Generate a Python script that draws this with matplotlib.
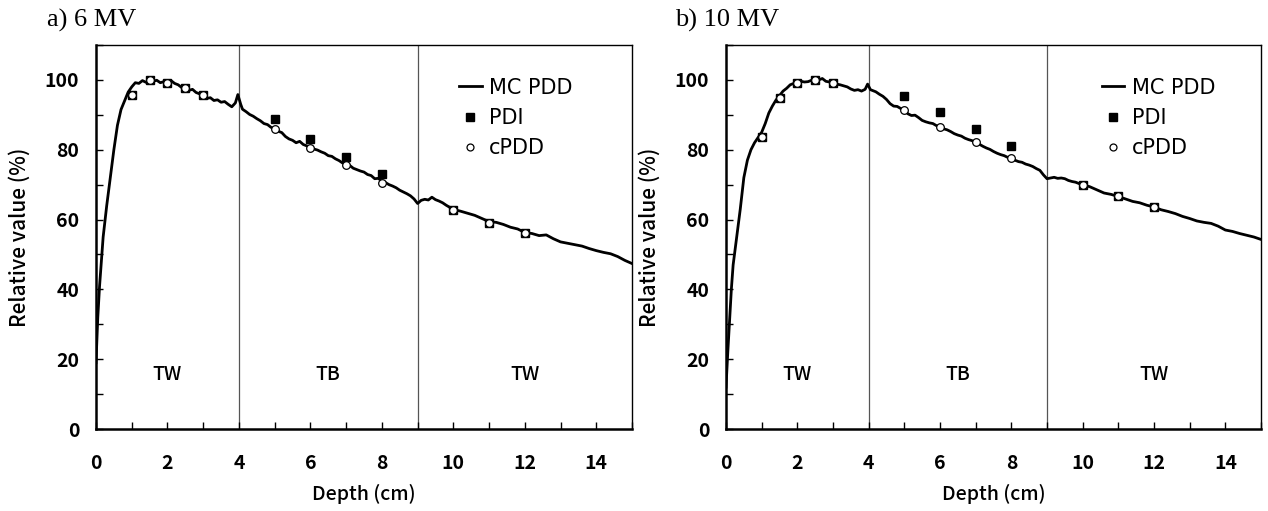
import matplotlib
matplotlib.use("Agg")
import matplotlib.pyplot as plt
from matplotlib.ticker import MultipleLocator
from matplotlib.lines import Line2D

# ---------------- data ----------------
depth_6mv = [0.0, 0.05, 0.1, 0.15, 0.2, 0.3, 0.4, 0.5, 0.6, 0.7, 0.8, 0.9, 1.0, 1.1, 1.2, 1.3, 1.4,
             1.5, 1.6, 1.7, 1.8, 1.9, 2.0, 2.1, 2.2, 2.3, 2.4, 2.5, 2.6, 2.7, 2.8, 2.9, 3.0,
             3.1, 3.2, 3.3, 3.4, 3.5, 3.6, 3.7, 3.8, 3.9, 3.97, 4.05, 4.1, 4.2, 4.3, 4.4, 4.5,
             4.6, 4.7, 4.8, 4.9, 5.0, 5.1, 5.2, 5.3, 5.4, 5.5, 5.6, 5.7, 5.8, 5.9, 6.0, 6.1,
             6.2, 6.3, 6.4, 6.5, 6.6, 6.7, 6.8, 6.9, 7.0, 7.1, 7.2, 7.3, 7.4, 7.5, 7.6, 7.7,
             7.8, 7.9, 8.0, 8.1, 8.2, 8.3, 8.4, 8.5, 8.6, 8.7, 8.8, 8.9, 9.0, 9.1, 9.2, 9.3,
             9.4, 9.5, 9.6, 9.7, 9.8, 9.9, 10.0, 10.2, 10.4, 10.6, 10.8, 11.0, 11.2, 11.4,
             11.6, 11.8, 12.0, 12.2, 12.4, 12.6, 12.8, 13.0, 13.2, 13.4, 13.6, 13.8, 14.0,
             14.2, 14.4, 14.6, 14.8, 15.0]
mc_pdd_6mv = [19, 32, 41, 48, 55, 64, 72, 80, 87, 91.5, 94, 96.5, 98, 99.2, 99.0, 99.8, 99.3,
              100.1, 99.6, 99.9, 99.2, 99.5, 99.4, 99.8, 99.0, 98.6, 97.8, 97.6, 97.0, 97.3, 96.4, 96.0, 95.4,
              94.7, 94.9, 94.1, 94.3, 93.6, 93.8, 93.0, 92.3, 93.4, 95.8, 93.0, 91.6, 90.9, 90.1, 89.6, 88.9,
              88.3, 87.5, 87.2, 86.4, 86.0, 85.3, 84.9, 83.8, 83.1, 82.7, 82.0, 82.4, 81.5, 81.1, 80.7, 80.2,
              79.9, 79.4, 79.0, 78.3, 78.1, 77.4, 76.9, 76.2, 75.8, 75.5, 74.7, 74.3, 73.9, 73.6, 72.9, 72.6,
              71.7, 71.8, 71.0, 70.6, 70.0, 69.6, 69.1, 68.4, 67.9, 67.4, 66.8, 65.9, 64.6, 65.5, 65.8, 65.6,
              66.4, 65.7, 65.3, 64.8, 64.1, 63.5, 62.9, 62.4, 61.8, 61.2, 60.3, 59.4, 59.2, 58.6,
              57.8, 57.3, 56.3, 56.0, 55.4, 55.6, 54.5, 53.6, 53.2, 52.8, 52.4, 51.7, 51.1,
              50.6, 50.2, 49.4, 48.3, 47.4]

depth_10mv = [0.0, 0.05, 0.1, 0.15, 0.2, 0.3, 0.4, 0.5, 0.6, 0.7, 0.8, 0.9, 1.0, 1.1, 1.2, 1.3, 1.4,
              1.5, 1.6, 1.7, 1.8, 1.9, 2.0, 2.1, 2.2, 2.3, 2.4, 2.5, 2.6, 2.7, 2.8, 2.9, 3.0,
              3.1, 3.2, 3.3, 3.4, 3.5, 3.6, 3.7, 3.8, 3.9, 3.97, 4.05, 4.1, 4.2, 4.3, 4.4, 4.5,
              4.6, 4.7, 4.8, 4.9, 5.0, 5.1, 5.2, 5.3, 5.4, 5.5, 5.6, 5.7, 5.8, 5.9, 6.0, 6.1,
              6.2, 6.3, 6.4, 6.5, 6.6, 6.7, 6.8, 6.9, 7.0, 7.1, 7.2, 7.3, 7.4, 7.5, 7.6, 7.7,
              7.8, 7.9, 8.0, 8.1, 8.2, 8.3, 8.4, 8.5, 8.6, 8.7, 8.8, 8.9, 9.0, 9.1, 9.2, 9.3,
              9.4, 9.5, 9.6, 9.7, 9.8, 9.9, 10.0, 10.2, 10.4, 10.6, 10.8, 11.0, 11.2, 11.4,
              11.6, 11.8, 12.0, 12.2, 12.4, 12.6, 12.8, 13.0, 13.2, 13.4, 13.6, 13.8, 14.0,
              14.2, 14.4, 14.6, 14.8, 15.0]
mc_pdd_10mv = [12, 22, 31, 40, 47, 55, 63, 72, 77, 80, 82, 83.5, 85, 87.5, 90.5, 92.5, 94.2,
               95.5, 96.8, 97.6, 98.6, 99.0, 99.3, 99.6, 99.4, 99.5, 99.9, 100.2, 100.0, 100.4, 99.6, 99.4, 99.1,
               98.8, 98.6, 98.3, 98.0, 97.4, 97.0, 97.2, 96.8, 97.3, 98.8, 97.2, 97.0, 96.6, 95.9, 95.3, 94.4,
               93.2, 92.5, 92.4, 91.8, 91.4, 90.3, 89.8, 89.9, 89.2, 88.4, 88.0, 87.7, 87.5, 86.9, 86.6, 86.0,
               85.7, 85.2, 84.6, 84.2, 83.9, 83.3, 82.9, 82.6, 82.0, 81.6, 81.0, 80.5, 80.1, 79.5, 79.0, 78.6,
               78.3, 77.8, 77.5, 77.0, 76.6, 76.4, 75.9, 75.6, 75.2, 74.6, 74.1, 72.8, 71.7, 71.9, 72.1, 71.8,
               71.9, 71.7, 71.2, 70.9, 70.7, 70.3, 70.0, 69.4, 68.5, 67.6, 67.2, 66.6, 65.9, 65.2,
               64.8, 64.1, 63.6, 62.8, 62.3, 61.7, 60.9, 60.3, 59.6, 59.2, 58.9, 58.1, 57.0,
               56.6, 56.0, 55.5, 55.0, 54.3]

# measurement points
pdi_depth_6mv = [1, 1.5, 2, 2.5, 3, 5, 6, 7, 8, 10, 11, 12]
pdi_6mv = [95.6, 100.0, 99.1, 97.6, 95.7, 88.7, 83.2, 78.0, 73.0, 62.6, 59.1, 56.1]
cpdd_depth_6mv = [1, 1.5, 2, 2.5, 3, 5, 6, 7, 8, 10, 11, 12]
cpdd_6mv = [95.6, 100.0, 99.1, 97.6, 95.7, 86.0, 80.5, 75.6, 70.6, 62.6, 59.1, 56.1]

pdi_depth_10mv = [1, 1.5, 2, 2.5, 3, 5, 6, 7, 8, 10, 11, 12]
pdi_10mv = [83.6, 94.9, 99.0, 100.0, 99.0, 95.4, 90.7, 85.9, 81.1, 69.9, 66.7, 63.6]
cpdd_depth_10mv = [1, 1.5, 2, 2.5, 3, 5, 6, 7, 8, 10, 11, 12]
cpdd_10mv = [83.6, 94.9, 99.0, 100.0, 99.0, 91.4, 86.6, 82.1, 77.6, 69.9, 66.7, 63.6]

region_bounds = [4, 9]
region_labels = ["TW", "TB", "TW"]
region_label_x = [2, 6.5, 12]
panel_titles = ["a) 6 MV", "b) 10 MV"]
legend_labels = ["MC PDD", "PDI", "cPDD"]

# ---------------- figure ----------------
W, H = 1268, 511
fig = plt.figure(figsize=(W / 100, H / 100), dpi=100)

gothic = ["Noto Sans CJK JP", "DejaVu Sans"]

def px_ax(x0, x1, y0, y1):
    return [x0 / W, 1 - y1 / H, (x1 - x0) / W, (y1 - y0) / H]

axes = [fig.add_axes(px_ax(96, 632, 45, 429)),
        fig.add_axes(px_ax(726, 1261, 45, 429))]
legend_x = [0.677, 0.702]

panels = [
    (depth_6mv, mc_pdd_6mv, pdi_depth_6mv, pdi_6mv, cpdd_depth_6mv, cpdd_6mv),
    (depth_10mv, mc_pdd_10mv, pdi_depth_10mv, pdi_10mv, cpdd_depth_10mv, cpdd_10mv),
]

for ax, (dx, dy, px, py, cx, cy), lgx in zip(axes, panels, legend_x):
    for b in region_bounds:
        ax.axvline(b, color="#555555", lw=0.9, zorder=1)
    ax.plot(dx, dy, color="black", lw=2.0, zorder=3)
    ax.plot(px, py, ls="none", marker="s", ms=6, mfc="black", mec="black", zorder=4)
    ax.plot(cx, cy, ls="none", marker="o", ms=5.5, mfc="white", mec="black",
            mew=0.9, zorder=5)

    for lx, lab in zip(region_label_x, region_labels):
        ax.text(lx, 15.5, lab, ha="center", va="center", fontsize=14,
                family=gothic, fontweight="medium")

    ax.set_xlim(0, 15)
    ax.set_ylim(0, 110)
    ax.xaxis.set_major_locator(MultipleLocator(2))
    ax.xaxis.set_minor_locator(MultipleLocator(1))
    ax.yaxis.set_major_locator(MultipleLocator(20))
    ax.yaxis.set_minor_locator(MultipleLocator(10))
    ax.tick_params(which="both", direction="in", length=5, width=1.0,
                   top=False, right=False)
    ax.tick_params(axis="x", which="major", pad=18)
    ax.tick_params(axis="y", which="major", pad=12)
    for lab in ax.get_xticklabels() + ax.get_yticklabels():
        lab.set_family(gothic)
        lab.set_fontsize(14)
        lab.set_fontweight("bold")
    for s in ["left", "bottom"]:
        ax.spines[s].set_linewidth(1.8)
    for s in ["top", "right"]:
        ax.spines[s].set_linewidth(1.0)

    ax.set_xlabel("Depth (cm)", fontsize=14, family=gothic, fontweight="medium",
                  labelpad=8)
    ax.set_ylabel("Relative value (%)", fontsize=15, family=gothic, fontweight="medium",
                  labelpad=10)

    handles = [Line2D([], [], color="black", lw=2.0),
               Line2D([], [], ls="none", marker="s", ms=6, mfc="black", mec="black"),
               Line2D([], [], ls="none", marker="o", ms=5, mfc="white", mec="black", mew=0.9)]
    ax.legend(handles, legend_labels, loc="upper left", bbox_to_anchor=(lgx, 0.915),
              frameon=False, borderpad=0, borderaxespad=0, handlelength=1.1,
              handletextpad=0.35, labelspacing=0.5,
              prop={"family": ["DejaVu Sans"], "size": 15})

fig.text(47 / W, 1 - 20 / H, panel_titles[0], fontsize=19, family="Liberation Serif",
         ha="left", va="center")
fig.text(675 / W, 1 - 20 / H, panel_titles[1], fontsize=19, family="Liberation Serif",
         ha="left", va="center")

fig.savefig("out.png", dpi=100)
